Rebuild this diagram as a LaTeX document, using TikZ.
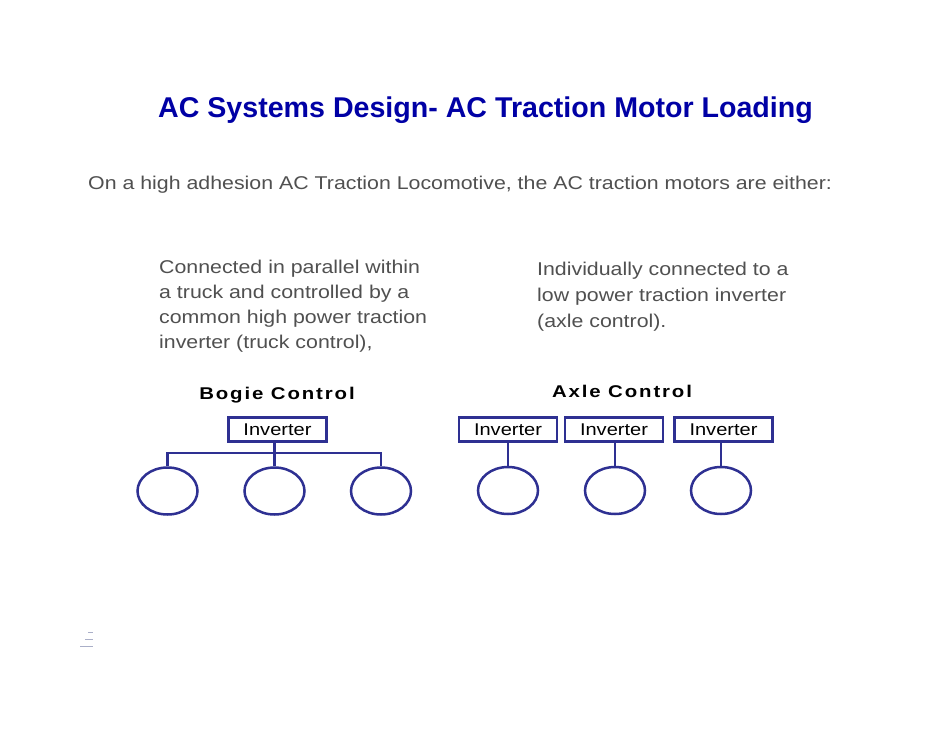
\documentclass[tikz,border=0pt]{standalone}
\usepackage{fontspec}
\setmainfont{Liberation Sans}
\definecolor{titleblue}{RGB}{0,0,165}
\definecolor{bodygrey}{RGB}{80,80,80}
\definecolor{linenavy}{RGB}{46,48,146}
\definecolor{faint}{RGB}{170,175,200}
\tikzset{
  titletext/.style={anchor=base west, inner sep=0pt, text=titleblue, font=\fontsize{28.6}{32}\selectfont\bfseries},
  bodytext/.style={anchor=base west, inner sep=0pt, text=bodygrey, font=\addfontfeatures{FakeStretch=1.153}\fontsize{18.5}{25}\selectfont},
  headtext/.style={anchor=base, inner sep=0pt, text=black, font=\addfontfeatures{FakeStretch=1.2,LetterSpace=11}\fontsize{17}{20}\selectfont\bfseries},
  invbox/.style={draw=linenavy, line width=2.5pt, minimum width=98pt, minimum height=24pt, inner sep=0pt, text=black, font=\addfontfeatures{FakeStretch=1.18}\fontsize{17}{18}\selectfont},
  motor/.style={draw=linenavy, line width=2.5pt, ellipse, minimum width=60pt, minimum height=47pt, inner sep=0pt},
  wire/.style={draw=linenavy, line width=2.5pt}
}
\usetikzlibrary{shapes.geometric}
\begin{document}
\begin{tikzpicture}[x=1pt,y=-1pt]
\useasboundingbox[fill=white] (0,0) rectangle (942,728);
% title and intro
\node[titletext] (title) at (158,117) {AC Systems Design- AC Traction Motor Loading};
\node[bodytext] (intro) at (88,189) {On a high adhesion AC Traction Locomotive, the AC traction motors are either:};
% left paragraph
\node[bodytext] (l1) at (159,273) {Connected in parallel within};
\node[bodytext] (l2) at (159,298) {a truck and controlled by a};
\node[bodytext] (l3) at (159,323) {common high power traction};
\node[bodytext] (l4) at (159,348) {inverter (truck control),};
% right paragraph
\node[bodytext] (r1) at (537,275) {Individually connected to a};
\node[bodytext] (r2) at (537,301) {low power traction inverter};
\node[bodytext] (r3) at (537,327) {(axle control).};
% headings
\node[headtext] (bogie) at (277,399) {Bogie Control};
\node[headtext] (axle) at (622,397) {Axle Control};
% bogie control
\node[invbox] (binv) at (277.5,429.5) {Inverter};
\node[motor] (bm1) at (167.5,491) {};
\node[motor] (bm2) at (274.5,491) {};
\node[motor] (bm3) at (381,491) {};
\coordinate (bj) at (274.5,453);
\draw[wire] (binv.south -| bj) -- (bj);
\draw[wire] (bm1.north) |- (bj) -| (bm3.north);
\draw[wire] (bj) -- (bm2.north);
% axle control
\node[invbox] (ainv1) at (508,429.5) {Inverter};
\node[invbox] (ainv2) at (614,429.5) {Inverter};
\node[invbox] (ainv3) at (723.5,429.5) {Inverter};
\node[motor] (am1) at (508,490.5) {};
\node[motor] (am2) at (615,490.5) {};
\node[motor] (am3) at (721,490.5) {};
\draw[wire] (ainv1.south -| am1.north) -- (am1.north);
\draw[wire] (ainv2.south -| am2.north) -- (am2.north);
\draw[wire] (ainv3.south -| am3.north) -- (am3.north);
% faint marks bottom left
\draw[faint, line width=0.8pt] (88,632) -- (93,632);
\draw[faint, line width=0.8pt] (85,639) -- (93,639);
\draw[faint, line width=0.8pt] (80,646) -- (93,646);
\end{tikzpicture}
\end{document}
